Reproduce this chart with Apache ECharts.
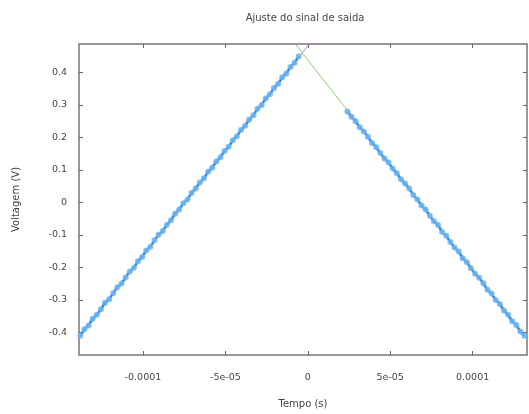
<!DOCTYPE html>
<html>
<head>
<meta charset="utf-8">
<script src="https://cdn.jsdelivr.net/npm/echarts@6/dist/echarts.min.js"></script>
<style>
  html, body { margin: 0; padding: 0; background: #fff; }
  #chart { width: 529px; height: 414px; }
</style>
</head>
<body>
<div id="chart"></div>
<script>
// Measured samples, time in microseconds, voltage in volts
const riseTimeUs = [-138, -135.5, -133, -130.5, -128, -125.5, -123, -120.5, -118, -115.5,
  -113, -110.5, -108, -105.5, -103, -100.5, -98, -95.5, -93, -90.5,
  -88, -85.5, -83, -80.5, -78, -75.5, -73, -70.5, -68, -65.5,
  -63, -60.5, -58, -55.5, -53, -50.5, -48, -45.5, -43, -40.5,
  -38, -35.5, -33, -30.5, -28, -25.5, -23, -20.5, -18, -15.5,
  -13, -10.5, -8, -5.5];
const riseVolts = [-0.411, -0.391, -0.379, -0.358, -0.346, -0.329, -0.309, -0.298, -0.279, -0.261,
  -0.250, -0.231, -0.213, -0.201, -0.181, -0.168, -0.148, -0.137, -0.117, -0.100,
  -0.088, -0.069, -0.055, -0.035, -0.022, -0.003, 0.009, 0.029, 0.043, 0.061,
  0.074, 0.094, 0.107, 0.126, 0.139, 0.158, 0.171, 0.191, 0.204, 0.223,
  0.236, 0.255, 0.268, 0.288, 0.300, 0.320, 0.333, 0.352, 0.365, 0.385,
  0.397, 0.417, 0.430, 0.450];

const fallTimeUs = [24, 26.5, 29, 31.5, 34, 36.5, 39, 41.5, 44, 46.5,
  49, 51.5, 54, 56.5, 59, 61.5, 64, 66.5, 69, 71.5,
  74, 76.5, 79, 81.5, 84, 86.5, 89, 91.5, 94, 96.5,
  99, 101.5, 104, 106.5, 109, 111.5, 114, 116.5, 119, 121.5,
  124, 126.5, 129, 131.5];
const fallVolts = [0.280, 0.264, 0.250, 0.231, 0.218, 0.202, 0.183, 0.170, 0.152, 0.135,
  0.123, 0.104, 0.090, 0.071, 0.058, 0.043, 0.023, 0.009, -0.010, -0.022,
  -0.041, -0.058, -0.070, -0.091, -0.103, -0.122, -0.139, -0.151, -0.172, -0.184,
  -0.203, -0.220, -0.232, -0.249, -0.269, -0.281, -0.301, -0.313, -0.333, -0.346,
  -0.366, -0.378, -0.398, -0.411];

// Fitted straight lines: end points (µs, V)
const riseFitTimeUs = [-138.8, 0.9];
const riseFitVolts = [-0.415, 0.4877];
const fallFitTimeUs = [-7.6, 133.0];
const fallFitVolts = [0.4877, -0.422];

// Axis ranges and ticks
const xRange = [-1.388e-4, 1.330e-4];
const yRange = [-0.470, 0.4877];
const xTickValues = [-1e-4, -5e-5, 0, 5e-5, 1e-4];
const xTickLabels = ['-0.0001', '-5e-05', '0', '5e-05', '0.0001'];
const yTickValues = [-0.4, -0.3, -0.2, -0.1, 0, 0.1, 0.2, 0.3, 0.4];
const yTickLabels = ['-0.4', '-0.3', '-0.2', '-0.1', '0', '0.1', '0.2', '0.3', '0.4'];

const US = 1e-6;
const pairs = (xs, ys) => xs.map((x, i) => [x * US, ys[i]]);

const fontFamily = 'DejaVu Sans';
const textColor = '#444';

function labelFor(values, labels) {
  return function (v) {
    for (let i = 0; i < values.length; i++) {
      if (Math.abs(values[i] - v) < 1e-9) return labels[i];
    }
    return '';
  };
}

const chart = echarts.init(document.getElementById('chart'), null, { renderer: 'canvas' });

const tickStyle = { show: true, inside: true, length: 4, lineStyle: { color: '#666', width: 1 } };
const hiddenLine = { show: false, onZero: false };

chart.setOption({
  animation: false,
  backgroundColor: '#fff',
  title: {
    text: 'Ajuste do sinal de saida',
    left: 300, top: 8, textAlign: 'center',
    textStyle: { fontFamily, fontSize: 10, fontWeight: 'normal', color: textColor }
  },
  grid: {
    left: 79, right: 2, top: 44, bottom: 50,
    show: true, borderColor: '#777', borderWidth: 1.5, backgroundColor: '#fff'
  },
  xAxis: [{
    type: 'value', min: xRange[0], max: xRange[1], position: 'bottom',
    name: 'Tempo (s)', nameLocation: 'middle', nameGap: 44,
    nameTextStyle: { fontFamily, fontSize: 10, color: textColor },
    axisLine: hiddenLine, splitLine: { show: false },
    axisTick: Object.assign({ customValues: xTickValues }, tickStyle),
    axisLabel: {
      customValues: xTickValues, margin: 18,
      fontFamily, fontSize: 9.5, color: textColor,
      formatter: labelFor(xTickValues, xTickLabels)
    }
  }, {
    type: 'value', min: xRange[0], max: xRange[1], position: 'top',
    axisLine: hiddenLine, splitLine: { show: false },
    axisTick: Object.assign({ customValues: xTickValues }, tickStyle),
    axisLabel: { show: false }
  }],
  yAxis: [{
    type: 'value', min: yRange[0], max: yRange[1], position: 'left',
    name: 'Voltagem (V)', nameLocation: 'middle', nameGap: 58,
    nameTextStyle: { fontFamily, fontSize: 10, color: textColor },
    axisLine: hiddenLine, splitLine: { show: false },
    axisTick: Object.assign({ customValues: yTickValues }, tickStyle),
    axisLabel: {
      customValues: yTickValues, margin: 12,
      fontFamily, fontSize: 9.5, color: textColor,
      formatter: labelFor(yTickValues, yTickLabels)
    }
  }, {
    type: 'value', min: yRange[0], max: yRange[1], position: 'right',
    axisLine: hiddenLine, splitLine: { show: false },
    axisTick: Object.assign({ customValues: yTickValues }, tickStyle),
    axisLabel: { show: false }
  }],
  series: [
    {
      name: 'ajuste subida', type: 'line', data: pairs(riseFitTimeUs, riseFitVolts),
      symbol: 'none', clip: true,
      lineStyle: { color: '#c878d0', width: 1 }, z: 2
    },
    {
      name: 'ajuste descida', type: 'line', data: pairs(fallFitTimeUs, fallFitVolts),
      symbol: 'none', clip: true,
      lineStyle: { color: '#8fcf78', width: 1 }, z: 2
    },
    {
      name: 'subida', type: 'line', data: pairs(riseTimeUs, riseVolts),
      symbol: 'circle', symbolSize: 6, showSymbol: true,
      itemStyle: { color: '#6cb4f0', opacity: 0.85 },
      lineStyle: { color: '#2f80d8', width: 2.5 }, z: 3
    },
    {
      name: 'descida', type: 'line', data: pairs(fallTimeUs, fallVolts),
      symbol: 'circle', symbolSize: 6, showSymbol: true,
      itemStyle: { color: '#6cb4f0', opacity: 0.85 },
      lineStyle: { color: '#2f80d8', width: 2.5 }, z: 3
    }
  ]
});
</script>
</body>
</html>
